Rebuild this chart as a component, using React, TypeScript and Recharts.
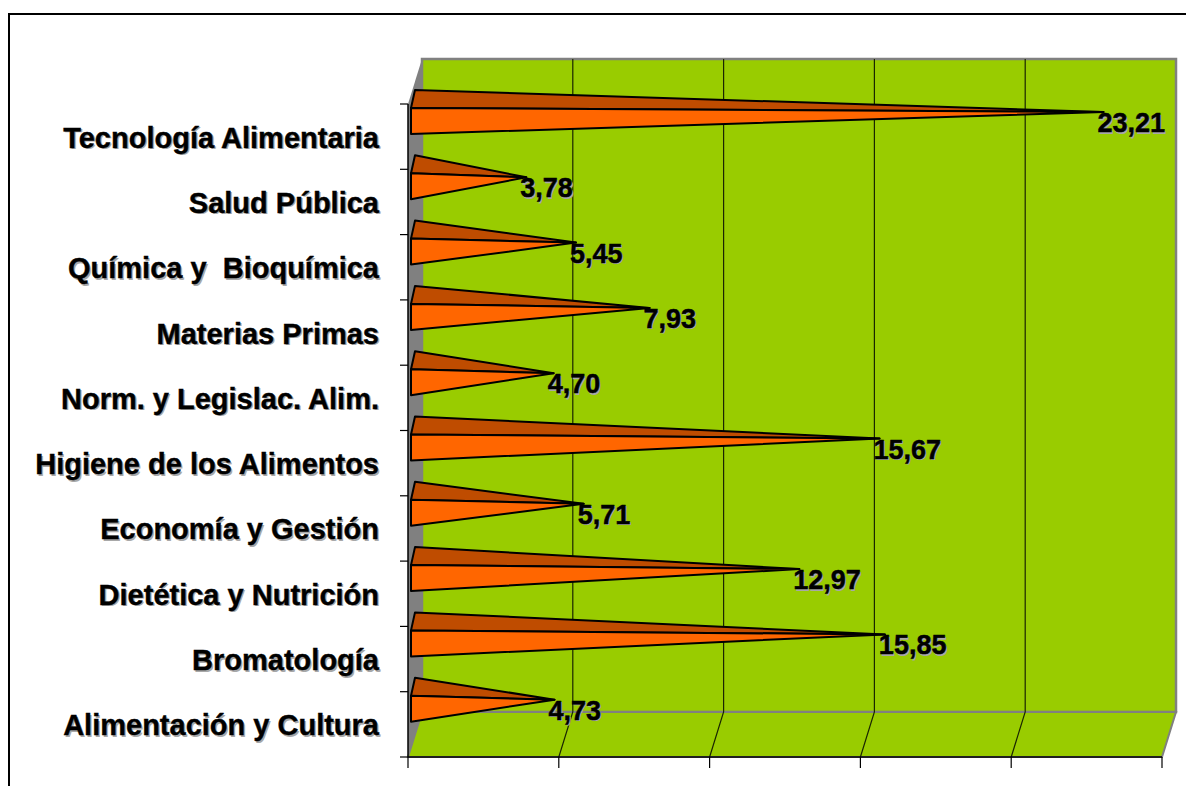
import React from 'react';
import {
  BarChart,
  Bar,
  XAxis,
  YAxis,
  ReferenceArea,
  LabelList,
} from 'recharts';

const categories = [
  'Tecnología Alimentaria',
  'Salud Pública',
  'Química y  Bioquímica',
  'Materias Primas',
  'Norm. y Legislac. Alim.',
  'Higiene de los Alimentos',
  'Economía y Gestión',
  'Dietética y Nutrición',
  'Bromatología',
  'Alimentación y Cultura',
];
const values = [23.21, 3.78, 5.45, 7.93, 4.7, 15.67, 5.71, 12.97, 15.85, 4.73];
const xTicks = [0, 5, 10, 15, 20, 25];

const data = categories.map((name, i) => ({ name, value: values[i] }));

// 3D depth of the plot box (back wall offset from the front plane)
const DX = 14;
const DY = -45;

const GREEN = '#99CC00';
const WALL = '#808080';
const FRONT = '#FF6600';
const TOP = '#BF4C00';
const FONT = '"Liberation Sans", Arial, sans-serif';

const xMax = xTicks[xTicks.length - 1];

const Walls = (props: any) => {
  const { x, y, width, height } = props;
  const b = y + height;
  // inner grid lines, back wall + floor
  const inner = xTicks.slice(1, -1).map((t) => x + (width * t) / xMax);
  return (
    <g>
      <rect x={x + DX} y={y + DY} width={width} height={height} fill={GREEN} stroke={WALL} strokeWidth={2.5} />
      <polygon
        points={`${x},${b} ${x + width},${b} ${x + width + DX},${b + DY} ${x + DX},${b + DY}`}
        fill={GREEN}
        stroke={WALL}
        strokeWidth={2}
      />
      {inner.map((gx, i) => (
        <polyline
          key={i}
          points={`${gx + DX},${y + DY} ${gx + DX},${b + DY} ${gx},${b}`}
          fill="none"
          stroke="#1a2600"
          strokeWidth={1.2}
        />
      ))}
      <polygon
        points={`${x},${y} ${x + DX},${y + DY} ${x + DX},${b + DY} ${x},${b}`}
        fill={WALL}
      />
    </g>
  );
};

const tipX = (x: number, width: number) => x + 6 + width * 0.985;

const Pyramid = (props: any) => {
  const { x, y, width, height } = props;
  const fx = x + 3;
  const ft = y - 16;
  const fb = y + height - 16;
  const tip = `${tipX(x, width)},${y - 12}`;
  return (
    <g stroke="#000" strokeWidth={2} strokeLinejoin="round">
      <polygon points={`${fx},${ft} ${x + 7},${y - 34} ${tip}`} fill={TOP} />
      <polygon points={`${fx},${ft} ${fx},${fb} ${tip}`} fill={FRONT} />
    </g>
  );
};

const ValueLabel = (props: any) => {
  const { x, y, width, value } = props;
  const tx = tipX(x, width) - 6;
  const ty = y + 8;
  const txt = Number(value).toFixed(2).replace('.', ',');
  return (
    <g fontFamily={FONT} fontWeight="bold" fontSize={27}>
      <text x={tx + 1.5} y={ty + 1.5} fill="#A8A8A8">{txt}</text>
      <text x={tx} y={ty} fill="#000" stroke="#000" strokeWidth={0.5}>{txt}</text>
    </g>
  );
};

const CategoryTick = (props: any) => {
  const { x, y, payload, height, visibleTicksCount, index } = props;
  const band = height / visibleTicksCount;
  return (
    <g>
      <line x1={x - 8} x2={x} y1={y - band / 2} y2={y - band / 2} stroke="#000" strokeWidth={1.2} />
      {index === visibleTicksCount - 1 && (
        <line x1={x - 8} x2={x} y1={y + band / 2} y2={y + band / 2} stroke="#000" strokeWidth={1.2} />
      )}
      <g fontFamily={FONT} fontWeight="bold" fontSize={29} textAnchor="end">
        <text x={x - 27.5} y={y + 12.5} fill="#A8A8A8" xmlSpace="preserve">{payload.value}</text>
        <text x={x - 29} y={y + 11} fill="#000" stroke="#000" strokeWidth={0.4} xmlSpace="preserve">
          {payload.value}
        </text>
      </g>
    </g>
  );
};

const App = () => {
  return (
    <div style={{ width: 1186, height: 778, overflow: 'hidden', position: 'relative' }}>
      <div
        style={{
          position: 'absolute',
          left: 0,
          top: 5,
          width: 1240,
          height: 840,
          border: '2px solid #000',
        }}
      />
      <div style={{ position: 'absolute', left: 0, top: 0 }}>
        <BarChart
          width={1186}
          height={778}
          data={data}
          layout="vertical"
          margin={{ top: 96, right: 32, left: 8, bottom: 0 }}
          barSize={26}
        >
          <ReferenceArea x1={0} x2={xMax} shape={Walls} ifOverflow="visible" />
          <XAxis
            type="number"
            domain={[0, xMax]}
            ticks={xTicks}
            height={29}
            stroke="#000"
            tickSize={11}
            tick={() => <g />}
            axisLine={{ stroke: '#000', strokeWidth: 1.5 }}
            tickLine={{ stroke: '#000', strokeWidth: 1.2 }}
          />
          <YAxis
            type="category"
            dataKey="name"
            width={392}
            tickSize={0}
            tickMargin={0}
            tickLine={false}
            axisLine={{ stroke: '#000', strokeWidth: 1.5 }}
            tick={CategoryTick}
            interval={0}
          />
          <Bar dataKey="value" shape={Pyramid} isAnimationActive={false}>
            <LabelList dataKey="value" content={ValueLabel} />
          </Bar>
        </BarChart>
      </div>
    </div>
  );
};

export default App;
